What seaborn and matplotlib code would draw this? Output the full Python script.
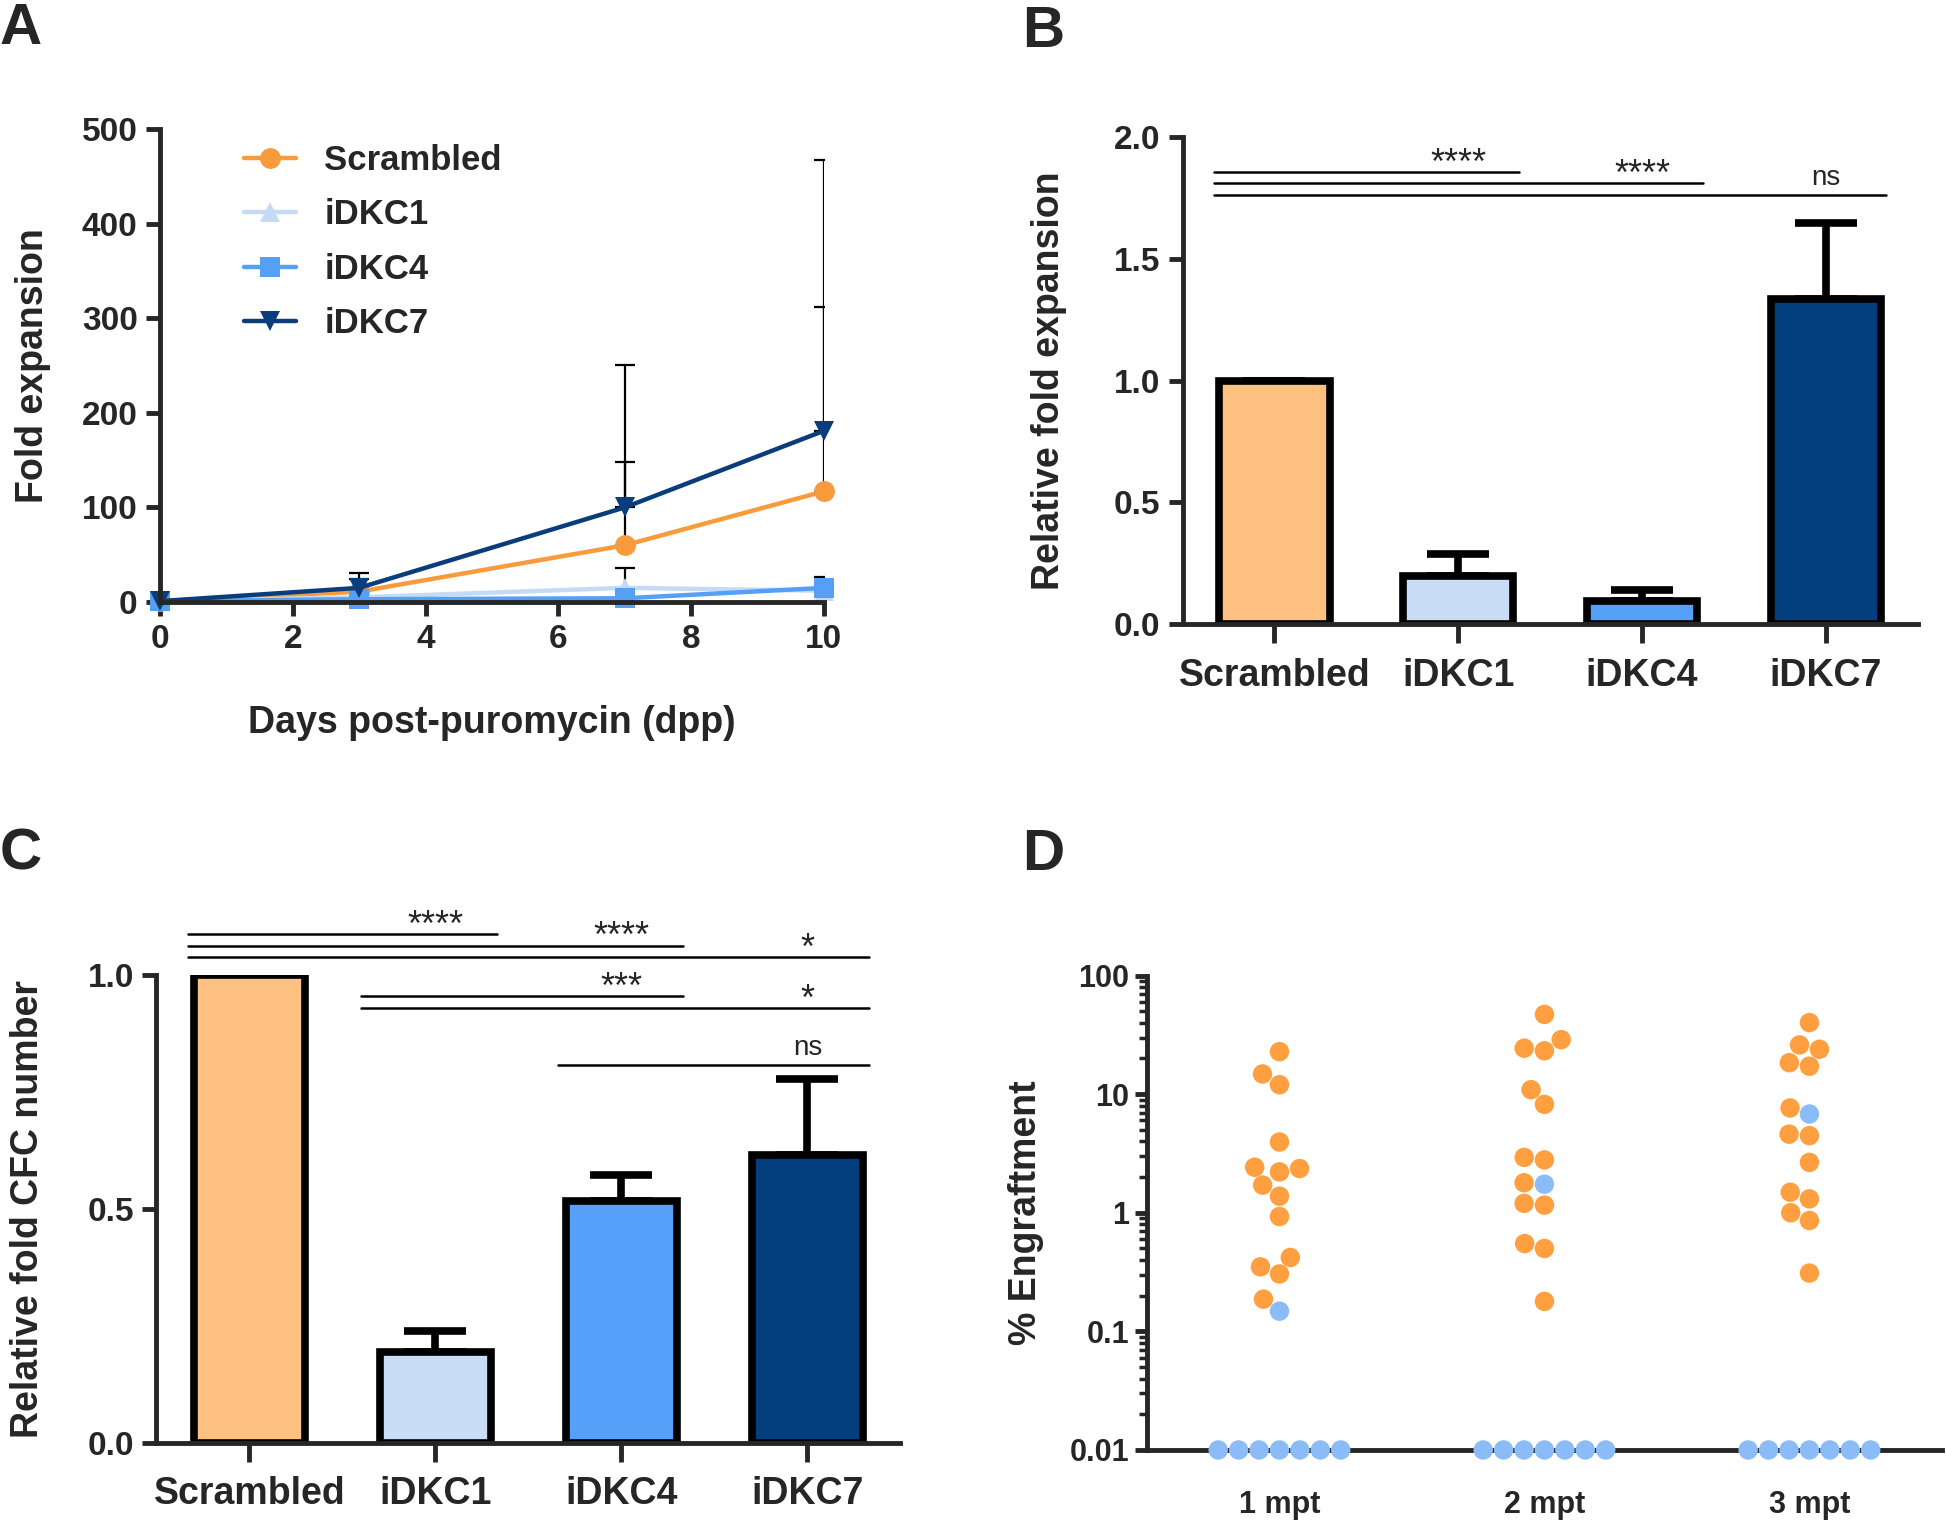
import numpy as np
import pandas as pd
import seaborn as sns
import matplotlib.pyplot as plt
from matplotlib.ticker import LogLocator, NullFormatter

# panel A - fold expansion after puromycin
days = [0, 3, 7, 10]
line_names = ['Scrambled', 'iDKC1', 'iDKC4', 'iDKC7']
fold_scrambled = [1, 11, 60, 117]
fold_idkc1 = [1, 5, 15, 12]
fold_idkc4 = [1, 3, 4, 15]
fold_idkc7 = [1, 15, 100, 181]
sd_scrambled = [0, 13, 88, 195]
sd_idkc1 = [0, 0, 21, 15]
sd_idkc4 = [0, 0, 0, 0]
sd_idkc7 = [0, 16, 151, 286]

# panel B - relative fold expansion
groups = ['Scrambled', 'iDKC1', 'iDKC4', 'iDKC7']
rel_fold = [1.0, 0.196, 0.096, 1.335]
rel_fold_sd = [0.0, 0.094, 0.046, 0.31]
b_tests = [(0, 1, '****'), (0, 2, '****'), (0, 3, 'ns')]

# panel C - relative CFC number
rel_cfc = [1.0, 0.195, 0.518, 0.615]
rel_cfc_sd = [0.0, 0.045, 0.055, 0.163]
c_tests_top = [(0, 1, '****'), (0, 2, '****'), (0, 3, '*')]
c_tests_mid = [(1, 2, '***'), (1, 3, '*')]
c_tests_low = [(2, 3, 'ns')]

# panel D - % engraftment (undetected plotted at 0.01)
timepoints = ['1 mpt', '2 mpt', '3 mpt']
scr_1mpt = [2.21, 14.8, 0.42, 0.187, 22.8, 12.0, 3.95, 2.36, 1.38, 0.93, 0.305, 1.71, 0.35, 2.42]
kd_1mpt = [0.148, 0.01, 0.01, 0.01, 0.01, 0.01, 0.01, 0.01]
scr_2mpt = [24.4, 0.55, 47, 23.2, 8.2, 2.93, 1.79, 1.16, 0.50, 0.179, 28.8, 10.9, 2.79, 1.20]
kd_2mpt = [1.74, 0.01, 0.01, 0.01, 0.01, 0.01, 0.01, 0.01]
scr_3mpt = [23.9, 4.47, 1.49, 1.0, 26.0, 17.2, 7.65, 2.66, 0.31, 40.1, 18.4, 4.6, 1.31, 0.86]
kd_3mpt = [6.8, 0.01, 0.01, 0.01, 0.01, 0.01, 0.01, 0.01]

line_colors = {'Scrambled': '#F89B3C', 'iDKC1': '#C5DBF5', 'iDKC4': '#55A0F5', 'iDKC7': '#0A3D7C'}
line_markers = {'Scrambled': 'o', 'iDKC1': '^', 'iDKC4': 's', 'iDKC7': 'v'}
bar_colors = ['#FFC182', '#C9DDF7', '#55A0F8', '#033F7E']
dot_colors = {'Scrambled': '#FF9F40', 'iDKC': '#8CBCF7'}

sns.set_style('ticks')
plt.rcParams['font.family'] = ['Liberation Sans', 'DejaVu Sans']
plt.rcParams['font.weight'] = 'bold'
plt.rcParams['axes.labelweight'] = 'bold'

SPINE = 3.5
TICK_FS = 24
CAT_FS = 27
LABEL_FS = 27

fig = plt.figure(figsize=(19.46, 15.30), dpi=100)


def style_axes(ax):
    sns.despine(ax=ax)
    for side in ['left', 'bottom']:
        ax.spines[side].set_linewidth(SPINE)
    ax.tick_params(width=SPINE, length=10, labelsize=TICK_FS, pad=6)


def sig_lines(ax, tests, y_top, step, starts=None):
    for k, (i, j, label) in enumerate(tests):
        y = y_top - k * step
        x0 = i - 0.33 if starts is None else starts
        ax.plot([x0, j + 0.33], [y, y], color='black', lw=1.8, clip_on=False)
        if label == 'ns':
            fs, dy = 20, 3
        else:
            fs, dy = 26, -7
        ax.annotate(label, (j, y), xytext=(0, dy), textcoords='offset points',
                    ha='center', va='bottom', fontsize=fs, fontweight='normal',
                    annotation_clip=False)


# ---------- A
axA = fig.add_axes([0.0822, 0.6065, 0.3412, 0.3092])
df_a = pd.DataFrame({
    'day': days * 4,
    'fold': fold_scrambled + fold_idkc1 + fold_idkc4 + fold_idkc7,
    'line': np.repeat(line_names, len(days)),
})
sds = [sd_scrambled, sd_idkc1, sd_idkc4, sd_idkc7]
means = [fold_scrambled, fold_idkc1, fold_idkc4, fold_idkc7]
for m, s in zip(means, sds):
    keep = [k for k in range(len(days)) if s[k] > 0]
    if keep:
        axA.errorbar([days[k] for k in keep], [m[k] for k in keep],
                     yerr=[[0] * len(keep), [s[k] for k in keep]], fmt='none',
                     ecolor='black', elinewidth=1.6, capsize=7, capthick=1.6, zorder=1)
sns.lineplot(data=df_a, x='day', y='fold', hue='line', style='line',
             markers=line_markers, dashes=False, palette=line_colors,
             markersize=15, linewidth=3.2, markeredgewidth=0, clip_on=False,
             errorbar=None, ax=axA)
axA.set_xlim(0, 10)
axA.set_ylim(0, 500)
axA.set_xticks(range(0, 11, 2))
axA.set_yticks(range(0, 501, 100))
style_axes(axA)
axA.set_xlabel('Days post-puromycin (dpp)', fontsize=LABEL_FS, labelpad=36)
axA.set_ylabel('Fold expansion', fontsize=LABEL_FS, labelpad=22)
handles, labels = axA.get_legend_handles_labels()
axA.legend(handles, labels, loc='upper left', bbox_to_anchor=(0.08, 1.035),
           frameon=False, prop={'size': 25, 'weight': 'bold'},
           handlelength=1.5, handletextpad=0.8, labelspacing=0.62)

# ---------- B
axB = fig.add_axes([0.6077, 0.592, 0.3777, 0.3186])
sns.barplot(x=groups, y=rel_fold, hue=groups, palette=bar_colors, saturation=1,
            width=0.6, edgecolor='black', linewidth=5.5, legend=False, ax=axB)
axB.errorbar(range(len(groups)), rel_fold, yerr=[[0] * 4, rel_fold_sd], fmt='none',
             ecolor='black', elinewidth=5.5, capsize=22, capthick=5.5, zorder=0)
axB.set_xlim(-0.5, 3.5)
axB.set_ylim(0, 2.0)
axB.set_yticks([0, 0.5, 1.0, 1.5, 2.0])
axB.set_yticklabels(['0.0', '0.5', '1.0', '1.5', '2.0'])
style_axes(axB)
axB.tick_params(axis='x', length=14, pad=10, labelsize=CAT_FS)
axB.set_ylabel('Relative fold expansion', fontsize=LABEL_FS, labelpad=34)
sig_lines(axB, b_tests, 1.856, 0.047)

# ---------- C
axC = fig.add_axes([0.0804, 0.0569, 0.3823, 0.3056])
sns.barplot(x=groups, y=rel_cfc, hue=groups, palette=bar_colors, saturation=1,
            width=0.6, edgecolor='black', linewidth=5.5, legend=False, ax=axC)
axC.errorbar(range(len(groups)), rel_cfc, yerr=[[0] * 4, rel_cfc_sd], fmt='none',
             ecolor='black', elinewidth=5.5, capsize=22, capthick=5.5, zorder=0)
axC.set_xlim(-0.5, 3.5)
axC.set_ylim(0, 1.0)
axC.set_yticks([0, 0.5, 1.0])
axC.set_yticklabels(['0.0', '0.5', '1.0'])
style_axes(axC)
axC.tick_params(axis='x', length=14, pad=10, labelsize=CAT_FS)
axC.set_ylabel('Relative fold CFC number', fontsize=LABEL_FS, labelpad=30)
sig_lines(axC, c_tests_top, 1.088, 0.0245)
sig_lines(axC, c_tests_mid, 0.955, 0.0245, starts=0.6)
sig_lines(axC, c_tests_low, 0.809, 0.0245, starts=1.66)

# ---------- D
axD = fig.add_axes([0.5894, 0.0523, 0.4085, 0.3101])
scr = [scr_1mpt, scr_2mpt, scr_3mpt]
kd = [kd_1mpt, kd_2mpt, kd_3mpt]
rows = []
for t, s_vals, k_vals in zip(timepoints, scr, kd):
    rows += [(t, v, 'Scrambled') for v in s_vals]
    rows += [(t, v, 'iDKC') for v in k_vals]
df_d = pd.DataFrame(rows, columns=['time', 'engraftment', 'shRNA'])
sns.swarmplot(data=df_d, x='time', y='engraftment', hue='shRNA', order=timepoints,
              hue_order=['Scrambled', 'iDKC'], palette=dot_colors, size=14,
              linewidth=0, log_scale=True, legend=False, clip_on=False,
              zorder=4, ax=axD)
axD.set_xlim(-0.5, 2.5)
axD.set_ylim(0.01, 100)
axD.set_yticks([0.01, 0.1, 1, 10, 100])
axD.set_yticklabels(['0.01', '0.1', '1', '10', '100'])
axD.yaxis.set_minor_locator(LogLocator(base=10, subs=np.arange(2, 10)))
axD.yaxis.set_minor_formatter(NullFormatter())
sns.despine(ax=axD)
for side in ['left', 'bottom']:
    axD.spines[side].set_linewidth(SPINE)
axD.tick_params(axis='y', which='major', width=SPINE, length=9, labelsize=22, pad=4)
axD.tick_params(axis='y', which='minor', width=2.5, length=6)
axD.tick_params(axis='x', width=SPINE, length=5, labelsize=22, pad=24)
axD.set_xlabel('')
axD.set_ylabel('% Engraftment', fontsize=LABEL_FS, labelpad=18)

# panel letters
for letter, x, y in [('A', 0.0, 0.999), ('B', 0.525, 0.997),
                     ('C', 0.0, 0.459), ('D', 0.525, 0.459)]:
    fig.text(x, y, letter, ha='left', va='top', fontsize=42, fontweight='bold')

fig.savefig('out.png', dpi=100)
